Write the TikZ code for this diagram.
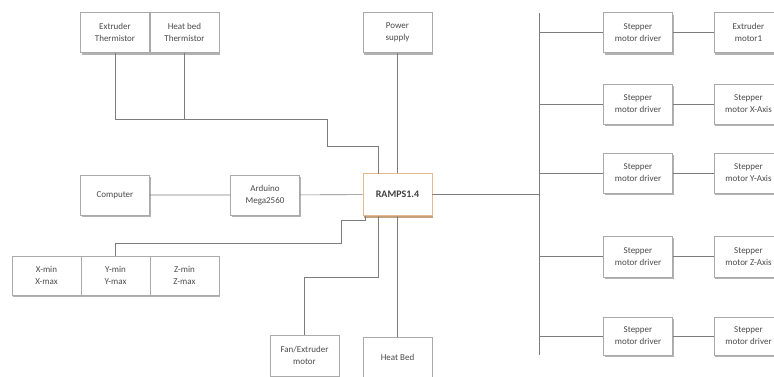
\documentclass[tikz,border=0pt]{standalone}
\usepackage{fontspec}
\setmainfont{Carlito}
\usepackage{tikz}
\usetikzlibrary{shadows,positioning}

\definecolor{boxline}{RGB}{170,170,170}
\definecolor{wire}{RGB}{125,125,125}
\definecolor{txt}{RGB}{75,75,75}
\definecolor{rampsline}{RGB}{230,185,145}

\tikzset{
	block/.style={draw=boxline, fill=white, minimum width=69pt, minimum height=40pt, inner sep=0pt,
		align=center, text=txt, font=\fontsize{9}{12}\selectfont,
		drop shadow={shadow xshift=1.2pt, shadow yshift=-2pt, fill=black, opacity=0.3}},
	board/.style={block, draw=rampsline, line width=0.8pt, minimum height=42pt,
		font=\fontsize{10}{12}\selectfont\bfseries, text=black!75,
		drop shadow={shadow xshift=1.2pt, shadow yshift=-2pt, fill=orange!70!brown, opacity=0.35}},
	wire/.style={draw=wire, line width=0.6pt}
}

\begin{document}
\begin{tikzpicture}[x=1pt, y=-1pt]
	\useasboundingbox (0,0) rectangle (774,376);
	\clip (0,0) rectangle (774,376);

	% left part
	\node [block] (extTherm) at (115,32.5) {Extruder\\Thermistor};
	\node [block] (bedTherm) at (184.5,32.5) {Heat bed\\Thermistor};
	\node [block] (power) at (397.5,32.5) {Power\\supply};
	\node [block] (computer) at (115,195) {Computer};
	\node [block] (arduino) at (265,195) {Arduino\\Mega2560};
	\node [board] (ramps) at (397.5,194.5) {RAMPS1.4};
	\node [block, minimum height=39pt] (xend) at (46.5,275.5) {X-min\\X-max};
	\node [block, minimum height=39pt] (yend) at (115.5,275.5) {Y-min\\Y-max};
	\node [block, minimum height=39pt] (zend) at (184.5,275.5) {Z-min\\Z-max};
	\node [block, minimum height=41pt] (fan) at (304.5,355.5) {Fan/Extruder\\motor};
	\node [block, minimum height=41pt] (heatbed) at (397.5,357.5) {Heat Bed};

	\coordinate (thBend) at (327,119);
	\coordinate (rampsIn) at (378,173.5);
	\coordinate (rampsOut1) at (365,215.5);
	\coordinate (endBend) at (341,220);
	\coordinate (endBend2) at (341,243);
	\coordinate (rampsOut2) at (378,215.5);
	\coordinate (fanBend) at (304.5,277);

	\draw [wire] (extTherm.south) |- (thBend) -- ++(0,27) -| (rampsIn);
	\draw [wire] (bedTherm.south) -- (bedTherm.south |- thBend);
	\draw [wire] (power) -- (ramps);
	\draw [wire] (computer) -- (arduino) -- (ramps);
	\draw [wire] (rampsOut1) |- (endBend) -- (endBend2) -| (yend.north);
	\draw [wire] (rampsOut2) |- (fanBend) -- (fan.north);
	\draw [wire] (ramps) -- (heatbed);

	% stepper drivers
	\coordinate (busTop) at (539,13);
	\coordinate (busBot) at (539,355);
	\draw [wire] (ramps.east) -- (ramps.east -| busTop);
	\draw [wire] (busTop) -- (busBot);

	\node [block] (drv1) at (638,32.5) {Stepper\\motor driver};
	\node [block] (drv2) at (638,104) {Stepper\\motor driver};
	\node [block] (drv3) at (638,173) {Stepper\\motor driver};
	\node [block, minimum height=41pt] (drv4) at (638,256.5) {Stepper\\motor driver};
	\node [block, minimum height=38pt] (drv5) at (638,336) {Stepper\\motor driver};

	\node [block] (mot1) at (748.5,32.5) {Extruder\\motor1};
	\node [block] (mot2) at (748.5,104) {Stepper\\motor X-Axis};
	\node [block] (mot3) at (748.5,173) {Stepper\\motor Y-Axis};
	\node [block, minimum height=41pt] (mot4) at (748.5,256.5) {Stepper\\motor Z-Axis};
	\node [block, minimum height=38pt] (mot5) at (748.5,336) {Stepper\\motor driver};

	\foreach \i in {1,...,5} {
		\draw [wire] (drv\i.west -| busTop) -- (drv\i.west);
		\draw [wire] (drv\i) -- (mot\i);
	}
\end{tikzpicture}
\end{document}
